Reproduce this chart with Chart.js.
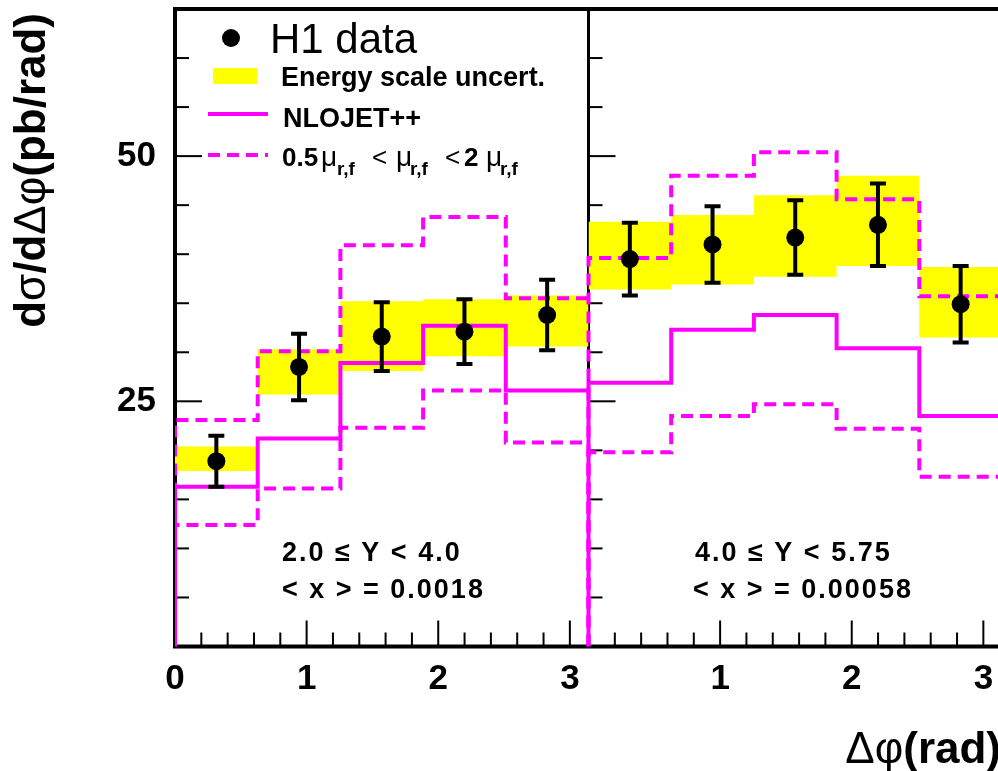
<!DOCTYPE html>
<html>
<head>
<meta charset="utf-8">
<script src="https://cdn.jsdelivr.net/npm/chart.js@4.4.1/dist/chart.umd.min.js"></script>
<style>
  html, body { margin: 0; padding: 0; background: #fff; overflow: hidden; }
  #wrap { width: 998px; height: 771px; overflow: hidden; }
  #chart { display: block; }
</style>
</head>
<body>
<div id="wrap"><canvas id="chart" width="1012" height="771"></canvas></div>
<script>
const PANEL = Math.PI;            // each panel spans 0..pi in delta phi
const panelOffsets = [0, PANEL];
const binEdges = [0, 0.6283, 1.2566, 1.8850, 2.5133, 3.1416];

/* ===============================
   PANEL 1 : 2.0 <= Y < 4.0
   =============================== */
const h1Data1   = [18.9, 28.5, 31.6, 32.1, 33.8];
const h1Err1    = [2.6, 3.4, 3.5, 3.3, 3.6];
const escaleUp1 = [20.4, 30.3, 35.2, 35.4, 35.8];
const escaleLo1 = [17.9, 25.7, 28.1, 29.6, 30.6];
const nlo1      = [16.3, 21.2, 28.9, 32.7, 26.1];
const nloUp1    = [23.1, 30.1, 40.9, 43.8, 35.5];
const nloLo1    = [12.4, 16.1, 22.3, 26.1, 20.8];

/* ===============================
   PANEL 2 : 4.0 <= Y < 5.75
   =============================== */
const h1Data2   = [39.5, 41.0, 41.7, 43.0, 34.9];
const h1Err2    = [3.7, 3.9, 3.8, 4.2, 3.9];
const escaleUp2 = [43.3, 44.0, 46.0, 48.0, 38.7];
const escaleLo2 = [36.4, 36.9, 37.7, 38.8, 31.5];
const nlo2      = [26.9, 32.3, 33.8, 30.4, 23.5];
const nloUp2    = [39.6, 48.0, 50.4, 45.6, 35.7];
const nloLo2    = [19.8, 23.5, 24.7, 22.2, 17.3];

/* ===============================
   AXES
   =============================== */
const yLabelValues = [25, 50];
const yTickValues  = [5, 10, 15, 20, 25, 30, 35, 40, 45, 50, 55, 60];
const xLabelLocal  = [[0, 1, 2, 3], [1, 2, 3]];
const xTickLocal   = [0.2, 0.4, 0.6, 0.8, 1, 1.2, 1.4, 1.6, 1.8, 2, 2.2, 2.4, 2.6, 2.8, 3];

const YELLOW = "#ffff00";
const MAGENTA = "#ff00ff";
const FONT = '"Liberation Sans", Arial, sans-serif';

Chart.defaults.font.family = FONT;

// histogram outline, optionally rising from zero at the first edge
function stepLine(values, offset, fromZero) {
  const pts = fromZero ? [{ x: binEdges[0] + offset, y: 0 }] : [];
  values.forEach((v, i) => {
    pts.push({ x: binEdges[i] + offset, y: v });
    pts.push({ x: binEdges[i + 1] + offset, y: v });
  });
  return pts;
}

function binPoints(values, errs, offset) {
  return values.map((v, i) => ({
    x: (binEdges[i] + binEdges[i + 1]) / 2 + offset,
    y: v,
    err: errs[i]
  }));
}

function bandDatasets(up, lo, offset) {
  return [
    { data: stepLine(up, offset, false), borderWidth: 0, pointRadius: 0,
      backgroundColor: YELLOW, fill: "+1", order: 3 },
    { data: stepLine(lo, offset, false), borderWidth: 0, pointRadius: 0,
      fill: false, order: 3 }
  ];
}

function histDataset(values, offset, dashed) {
  return {
    data: stepLine(values, offset, true),
    borderColor: MAGENTA,
    borderWidth: 4,
    borderDash: dashed ? [12, 7] : [],
    pointRadius: 0,
    fill: false,
    order: 2
  };
}

function pointsDataset(values, errs, offset) {
  return {
    type: "scatter",
    data: binPoints(values, errs, offset),
    showLine: false,
    pointRadius: 9,
    pointBackgroundColor: "#000",
    pointBorderWidth: 0,
    errorBars: true,
    order: 1
  };
}

// draw a sequence of text pieces with their own fonts
function drawRuns(ctx, runs, x, y, align) {
  let total = 0;
  const widths = runs.map(r => {
    ctx.font = r[1];
    const w = ctx.measureText(r[0]).width;
    total += w;
    return w;
  });
  let cx = align === "right" ? x - total : x;
  ctx.textAlign = "left";
  ctx.textBaseline = "alphabetic";
  runs.forEach((r, i) => {
    ctx.font = r[1];
    ctx.fillText(r[0], cx, y + (r[2] || 0));
    cx += widths[i];
  });
}

/* ===============================
   FRAME + INWARD TICKS
   =============================== */
const framePlugin = {
  id: "frame",
  beforeDatasetsDraw(chart) {
    const { ctx, chartArea: ca, scales: { x, y } } = chart;
    ctx.save();
    ctx.strokeStyle = "#000";
    ctx.lineWidth = 2;
    panelOffsets.forEach(off => {
      const x0 = x.getPixelForValue(off);
      yTickValues.forEach(v => {
        const py = y.getPixelForValue(v);
        const len = yLabelValues.includes(v) ? 27 : 14;
        ctx.beginPath();
        ctx.moveTo(x0, py);
        ctx.lineTo(x0 + len, py);
        ctx.stroke();
      });
      xTickLocal.forEach(t => {
        const px = x.getPixelForValue(off + t);
        const len = Number.isInteger(t) ? 26 : 14;
        ctx.beginPath();
        ctx.moveTo(px, ca.bottom);
        ctx.lineTo(px, ca.bottom - len);
        ctx.stroke();
      });
    });
    ctx.lineWidth = 4;
    ctx.strokeRect(ca.left, ca.top, ca.right - ca.left, ca.bottom - ca.top);
    const xs = x.getPixelForValue(PANEL);
    ctx.lineWidth = 3;
    ctx.beginPath();
    ctx.moveTo(xs, ca.top);
    ctx.lineTo(xs, ca.bottom);
    ctx.stroke();
    ctx.restore();
  }
};

/* ===============================
   ERROR BARS
   =============================== */
const errorBarPlugin = {
  id: "errorBars",
  afterDatasetsDraw(chart) {
    const { ctx, scales: { x, y } } = chart;
    ctx.save();
    ctx.strokeStyle = "#000";
    ctx.lineWidth = 4;
    chart.data.datasets.forEach(ds => {
      if (!ds.errorBars) return;
      ds.data.forEach(p => {
        const px = x.getPixelForValue(p.x);
        const top = y.getPixelForValue(p.y + p.err);
        const bot = y.getPixelForValue(p.y - p.err);
        ctx.beginPath();
        ctx.moveTo(px, top);
        ctx.lineTo(px, bot);
        ctx.moveTo(px - 8, top);
        ctx.lineTo(px + 8, top);
        ctx.moveTo(px - 8, bot);
        ctx.lineTo(px + 8, bot);
        ctx.stroke();
      });
    });
    ctx.restore();
  }
};

/* ===============================
   LEGEND, LABELS, AXIS TITLES
   =============================== */
const textPlugin = {
  id: "texts",
  afterDraw(chart) {
    const { ctx } = chart;
    const B = s => "bold " + s + "px " + FONT;
    const N = s => s + "px " + FONT;
    ctx.save();
    ctx.fillStyle = "#000";

    // legend
    ctx.beginPath();
    ctx.arc(231, 38, 9, 0, Math.PI * 2);
    ctx.fill();
    drawRuns(ctx, [["H1 data", N(42)]], 270, 53);

    ctx.fillStyle = YELLOW;
    ctx.fillRect(213, 68, 44, 16);
    ctx.fillStyle = "#000";
    drawRuns(ctx, [["Energy scale uncert.", B(27)]], 281, 86);

    ctx.strokeStyle = MAGENTA;
    ctx.lineWidth = 4;
    ctx.beginPath();
    ctx.moveTo(208, 114);
    ctx.lineTo(268, 114);
    ctx.stroke();
    drawRuns(ctx, [["NLOJET++", B(27)]], 283, 127);

    ctx.setLineDash([12, 7]);
    ctx.beginPath();
    ctx.moveTo(208, 155);
    ctx.lineTo(268, 155);
    ctx.stroke();
    ctx.setLineDash([]);
    // 0.5 mu_{r,f} < mu_{r,f} < 2 mu_{r,f}
    const mu = "\u03bc";
    [
      ["0.5", B(26), 282, 166], [mu, N(28), 321, 166], ["r,f", B(19), 337, 175],
      ["<", N(26), 372, 166], [mu, N(28), 396, 166], ["r,f", B(19), 410, 175],
      ["<", N(26), 445, 166], ["2", B(26), 464, 166], [mu, N(28), 486, 166],
      ["r,f", B(19), 500, 175]
    ].forEach(p => drawRuns(ctx, [[p[0], p[1]]], p[2], p[3]));

    // panel labels
    if ("letterSpacing" in ctx) ctx.letterSpacing = "2px";
    drawRuns(ctx, [["2.0 \u2264 Y < 4.0", B(27)]], 282, 561);
    drawRuns(ctx, [["< x > = 0.0018", B(27)]], 282, 598);
    drawRuns(ctx, [["4.0 \u2264 Y < 5.75", B(27)]], 695, 561);
    drawRuns(ctx, [["< x > = 0.00058", B(27)]], 693, 598);
    if ("letterSpacing" in ctx) ctx.letterSpacing = "0px";

    // x axis title
    drawRuns(ctx, [["\u0394\u03c6", N(44)], ["(rad)", B(44)]], 1001, 763, "right");

    // y axis title
    ctx.translate(45, 13);
    ctx.rotate(-Math.PI / 2);
    drawRuns(ctx, [
      ["d", B(44)], ["\u03c3", N(44)], ["/d", B(44)], ["\u0394\u03c6", N(44)],
      ["(pb/rad)", B(44)]
    ], 0, 0, "right");
    ctx.restore();
  }
};

const xLabelValues = [];
const xLabelText = [];
xLabelLocal.forEach((list, p) => list.forEach(t => {
  xLabelValues.push(panelOffsets[p] + t);
  xLabelText.push(String(t));
}));

function noPadding(ax) {
  ax.paddingTop = 0;
  ax.paddingBottom = 0;
  ax.paddingLeft = 0;
  ax.paddingRight = 0;
}

new Chart(document.getElementById("chart").getContext("2d"), {
  type: "line",
  data: {
    datasets: [
      ...bandDatasets(escaleUp1, escaleLo1, panelOffsets[0]),
      ...bandDatasets(escaleUp2, escaleLo2, panelOffsets[1]),
      histDataset(nlo1, panelOffsets[0], false),
      histDataset(nloUp1, panelOffsets[0], true),
      histDataset(nloLo1, panelOffsets[0], true),
      histDataset(nlo2, panelOffsets[1], false),
      histDataset(nloUp2, panelOffsets[1], true),
      histDataset(nloLo2, panelOffsets[1], true),
      pointsDataset(h1Data1, h1Err1, panelOffsets[0]),
      pointsDataset(h1Data2, h1Err2, panelOffsets[1])
    ]
  },
  options: {
    responsive: false,
    animation: false,
    events: [],
    layout: { padding: { left: 0, right: 10, top: 8, bottom: 0 } },
    plugins: {
      legend: { display: false },
      tooltip: { enabled: false }
    },
    scales: {
      x: {
        type: "linear",
        min: 0,
        max: 2 * PANEL,
        grid: { display: false, drawTicks: false },
        border: { display: false },
        afterBuildTicks: ax => { ax.ticks = xLabelValues.map(v => ({ value: v })); },
        afterFit: ax => { ax.height = 124.5; noPadding(ax); },
        ticks: {
          autoSkip: false,
          maxRotation: 0,
          padding: 12,
          color: "#000",
          font: { size: 35, weight: "bold" },
          callback: (v, i) => xLabelText[i]
        }
      },
      y: {
        min: 0,
        max: 65,
        grid: { display: false, drawTicks: false },
        border: { display: false },
        afterBuildTicks: ax => { ax.ticks = yLabelValues.map(v => ({ value: v })); },
        afterFit: ax => { ax.width = 175; noPadding(ax); },
        ticks: {
          padding: 19,
          color: "#000",
          font: { size: 35, weight: "bold" }
        }
      }
    }
  },
  plugins: [framePlugin, errorBarPlugin, textPlugin]
});
</script>
</body>
</html>
